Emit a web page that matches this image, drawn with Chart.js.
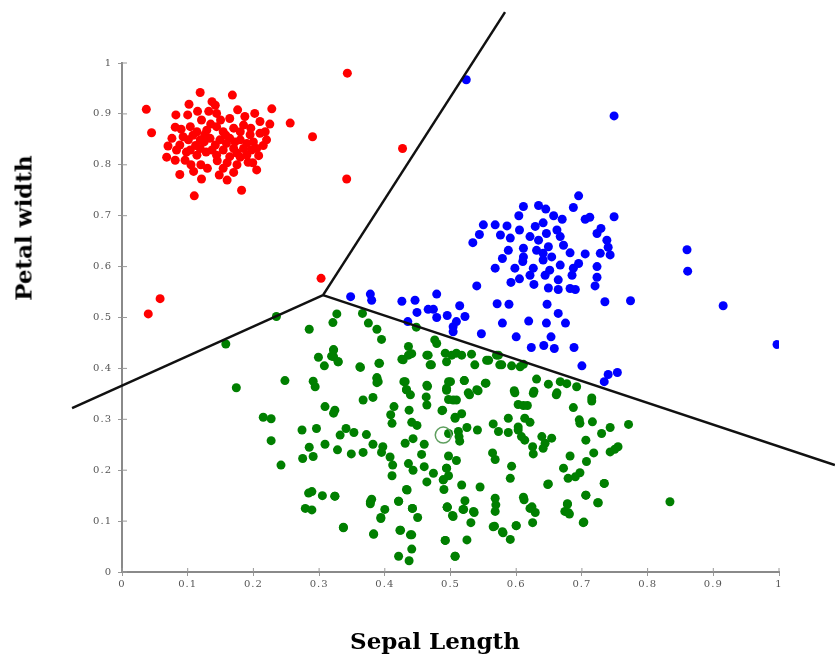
<!DOCTYPE html>
<html lang="en">
<head>
    <meta charset="UTF-8">
    <title>Iris clusters | Sepal Length vs Petal width</title>
    <script src="https://cdn.jsdelivr.net/npm/chart.js@4.4.1/dist/chart.umd.min.js"></script>
    <style>
        html, body { margin: 0; padding: 0; background: #fff; }
        .wrap { position: relative; width: 835px; height: 658px; }
        .axis-title { position: absolute; font-family: "DejaVu Serif", serif; font-weight: bold; font-size: 23px; color: #000; white-space: nowrap; }
        #xTitle { left: 435px; top: 640px; transform: translate(-50%, -50%); }
        #yTitle { left: 23px; top: 228px; transform: translate(-50%, -50%) rotate(-90deg); }
    </style>
</head>
<body>
    <div class="wrap">
        <canvas id="chart" width="835" height="658"></canvas>
        <div class="axis-title" id="xTitle">Sepal Length</div>
        <div class="axis-title" id="yTitle">Petal width</div>
    </div>

    <script>
        // tick values for both axes
        const tickValues = [0, 0.1, 0.2, 0.3, 0.4, 0.5, 0.6, 0.7, 0.8, 0.9, 1];

        // cluster 1 (red)
        const redPoints = [
            [0.343,0.980],[0.037,0.909],[0.045,0.863],[0.119,0.942],[0.168,0.937],[0.102,0.919],[0.137,0.924],
            [0.142,0.917],[0.228,0.910],[0.256,0.882],[0.290,0.855],[0.427,0.832],[0.342,0.772],[0.110,0.739],
            [0.182,0.750],[0.088,0.781],[0.160,0.770],[0.121,0.772],[0.109,0.787],[0.130,0.793],[0.154,0.793],
            [0.205,0.790],[0.199,0.804],[0.160,0.804],[0.068,0.815],[0.081,0.809],[0.096,0.809],[0.070,0.837],
            [0.083,0.829],[0.081,0.874],[0.082,0.898],[0.100,0.898],[0.121,0.888],[0.144,0.901],[0.164,0.891],
            [0.187,0.895],[0.202,0.901],[0.210,0.885],[0.218,0.865],[0.220,0.849],[0.205,0.832],[0.190,0.819],
            [0.180,0.815],[0.104,0.875],[0.114,0.865],[0.129,0.868],[0.144,0.875],[0.154,0.865],[0.170,0.872],
            [0.180,0.865],[0.195,0.859],[0.101,0.849],[0.119,0.849],[0.134,0.852],[0.149,0.849],[0.164,0.852],
            [0.180,0.849],[0.190,0.842],[0.104,0.829],[0.119,0.832],[0.137,0.829],[0.154,0.829],[0.170,0.832],
            [0.185,0.832],[0.197,0.829],[0.114,0.819],[0.144,0.819],[0.164,0.816],[0.126,0.859],[0.159,0.842],
            [0.142,0.839],[0.175,0.823],[0.093,0.855],[0.088,0.839],[0.200,0.845],[0.210,0.862],
            [0.090,0.870],[0.108,0.858],[0.125,0.845],[0.135,0.880],[0.150,0.888],[0.158,0.858],[0.172,0.845],
            [0.185,0.878],[0.196,0.872],[0.112,0.838],[0.128,0.825],[0.145,0.808],[0.175,0.800],[0.192,0.805],
            [0.208,0.818],[0.215,0.838],[0.098,0.825],[0.076,0.852],[0.132,0.905],[0.176,0.908],[0.115,0.905],
            [0.148,0.780],[0.170,0.785],[0.120,0.800],[0.105,0.800],[0.225,0.880],
            [0.303,0.577],[0.058,0.537],[0.040,0.507]
        ];

        // cluster 2 (blue)
        const bluePoints = [
            [0.524,0.967],[0.749,0.896],[0.695,0.739],[0.860,0.633],[0.861,0.591],[0.915,0.523],[0.997,0.447],
            [0.749,0.698],[0.774,0.533],[0.735,0.531],[0.700,0.405],[0.740,0.388],[0.754,0.392],[0.734,0.374],
            [0.688,0.441],[0.658,0.439],[0.642,0.445],[0.623,0.441],[0.600,0.462],[0.653,0.462],[0.646,0.489],
            [0.675,0.489],[0.619,0.493],[0.579,0.489],[0.664,0.508],[0.647,0.526],[0.571,0.527],[0.589,0.526],
            [0.547,0.468],[0.504,0.472],[0.504,0.482],[0.522,0.502],[0.514,0.523],[0.495,0.504],[0.479,0.500],
            [0.474,0.516],[0.466,0.516],[0.479,0.546],[0.449,0.510],[0.435,0.492],[0.446,0.534],[0.426,0.532],
            [0.378,0.546],[0.380,0.534],[0.348,0.541],[0.509,0.492],[0.540,0.562],
            [0.611,0.718],[0.634,0.720],[0.645,0.713],[0.687,0.716],[0.604,0.700],[0.657,0.700],[0.670,0.693],
            [0.705,0.693],[0.712,0.697],[0.550,0.682],[0.568,0.682],[0.586,0.680],[0.544,0.663],[0.534,0.647],
            [0.576,0.662],[0.591,0.656],[0.605,0.672],[0.629,0.679],[0.641,0.686],[0.662,0.672],[0.667,0.659],
            [0.729,0.675],[0.723,0.665],[0.738,0.652],[0.740,0.638],[0.743,0.623],[0.728,0.626],[0.705,0.625],
            [0.723,0.600],[0.695,0.606],[0.682,0.627],[0.672,0.642],[0.649,0.639],[0.631,0.632],[0.611,0.636],
            [0.611,0.619],[0.588,0.632],[0.579,0.616],[0.610,0.610],[0.598,0.597],[0.568,0.597],[0.626,0.597],
            [0.641,0.613],[0.654,0.619],[0.667,0.603],[0.651,0.593],[0.644,0.583],[0.664,0.574],[0.685,0.583],
            [0.687,0.597],[0.723,0.579],[0.720,0.562],[0.682,0.557],[0.664,0.555],[0.649,0.558],[0.627,0.565],
            [0.605,0.576],[0.592,0.569],[0.621,0.583],[0.634,0.652],[0.646,0.665],[0.621,0.659],[0.641,0.626],
            [0.690,0.555]
        ];

        // cluster 3 (green)
        const greenPoints = [
            [0.235,0.502],[0.158,0.448],[0.174,0.362],[0.248,0.376],[0.285,0.477],[0.327,0.507],[0.321,0.490],
            [0.366,0.508],[0.375,0.489],[0.388,0.477],[0.395,0.457],[0.322,0.437],[0.299,0.422],[0.319,0.424],
            [0.329,0.413],[0.308,0.405],[0.363,0.402],[0.391,0.410],[0.291,0.375],[0.294,0.364],[0.388,0.382],
            [0.390,0.374],[0.309,0.325],[0.324,0.318],[0.322,0.312],[0.367,0.338],[0.382,0.343],[0.215,0.304],
            [0.227,0.301],[0.274,0.279],[0.296,0.282],[0.227,0.258],[0.242,0.210],[0.285,0.245],[0.275,0.223],
            [0.291,0.227],[0.309,0.251],[0.328,0.240],[0.332,0.269],[0.341,0.282],[0.353,0.274],[0.372,0.270],
            [0.349,0.232],[0.367,0.235],[0.382,0.251],[0.397,0.246],[0.395,0.235],[0.408,0.226],[0.412,0.210],
            [0.411,0.189],[0.431,0.253],[0.443,0.262],[0.460,0.251],[0.456,0.231],[0.436,0.213],[0.443,0.200],
            [0.460,0.207],[0.474,0.194],[0.494,0.204],[0.464,0.177],[0.489,0.181],[0.490,0.162],[0.434,0.161],
            [0.421,0.139],[0.442,0.125],[0.450,0.107],[0.400,0.123],[0.394,0.105],[0.380,0.143],[0.378,0.134],
            [0.289,0.158],[0.284,0.155],[0.305,0.150],[0.324,0.149],[0.279,0.125],[0.289,0.122],[0.337,0.087],
            [0.383,0.074],[0.423,0.082],[0.439,0.073],[0.441,0.045],[0.421,0.031],[0.437,0.022],[0.492,0.062],
            [0.507,0.031],[0.495,0.127],[0.504,0.109],[0.429,0.374],[0.433,0.358],[0.439,0.348],[0.465,0.365],
            [0.463,0.344],[0.464,0.328],[0.414,0.325],[0.409,0.309],[0.411,0.292],[0.437,0.318],[0.441,0.294],
            [0.449,0.288],[0.487,0.317],[0.497,0.374],[0.494,0.357],[0.497,0.339],[0.509,0.338],[0.507,0.302],
            [0.436,0.443],[0.436,0.426],[0.428,0.417],[0.466,0.426],[0.471,0.407],[0.476,0.456],[0.479,0.449],
            [0.492,0.430],[0.494,0.413],[0.509,0.430],[0.448,0.481],[0.512,0.276],[0.497,0.272],
            [0.517,0.426],[0.532,0.428],[0.537,0.407],[0.558,0.416],[0.573,0.426],[0.575,0.407],[0.593,0.405],
            [0.606,0.403],[0.611,0.408],[0.631,0.379],[0.649,0.369],[0.667,0.374],[0.677,0.370],[0.692,0.364],
            [0.661,0.348],[0.626,0.351],[0.598,0.352],[0.554,0.371],[0.542,0.356],[0.529,0.348],[0.500,0.374],
            [0.521,0.376],[0.504,0.338],[0.488,0.318],[0.507,0.304],[0.517,0.311],[0.525,0.284],[0.541,0.279],
            [0.513,0.266],[0.514,0.257],[0.497,0.228],[0.509,0.219],[0.494,0.204],[0.497,0.189],[0.489,0.181],
            [0.517,0.171],[0.545,0.167],[0.603,0.329],[0.611,0.327],[0.617,0.327],[0.588,0.302],[0.565,0.291],
            [0.573,0.276],[0.588,0.274],[0.603,0.279],[0.613,0.302],[0.621,0.294],[0.608,0.266],[0.603,0.285],
            [0.613,0.259],[0.625,0.246],[0.626,0.232],[0.639,0.266],[0.644,0.253],[0.654,0.263],[0.641,0.243],
            [0.564,0.234],[0.568,0.221],[0.593,0.208],[0.591,0.184],[0.687,0.323],[0.696,0.299],[0.697,0.292],
            [0.716,0.295],[0.715,0.336],[0.706,0.259],[0.718,0.234],[0.730,0.272],[0.743,0.284],[0.771,0.290],
            [0.743,0.236],[0.755,0.246],[0.750,0.241],[0.682,0.228],[0.707,0.217],[0.672,0.204],[0.679,0.184],
            [0.697,0.195],[0.690,0.187],[0.649,0.173],[0.734,0.174],[0.706,0.151],[0.725,0.136],[0.678,0.134],
            [0.679,0.117],[0.703,0.098],[0.834,0.138],[0.612,0.142],[0.621,0.125],[0.629,0.117],[0.625,0.097],
            [0.600,0.091],[0.579,0.079],[0.591,0.064],[0.565,0.089],[0.568,0.119],[0.569,0.132],[0.568,0.145],
            [0.535,0.119],[0.531,0.097],[0.520,0.123],[0.522,0.140],[0.503,0.111],[0.495,0.128],[0.525,0.063],
            [0.492,0.062],[0.507,0.031],
            [0.570,0.426],[0.555,0.416],[0.578,0.407],[0.469,0.407],[0.392,0.410],[0.362,0.403],[0.388,0.380],
            [0.388,0.372],[0.431,0.374],[0.464,0.367],[0.521,0.376],[0.553,0.371],[0.433,0.358],[0.494,0.361],
            [0.527,0.352],[0.540,0.358],[0.597,0.356],[0.627,0.355],[0.662,0.352],[0.715,0.342],[0.322,0.423],
            [0.322,0.436],[0.329,0.413],[0.426,0.418],[0.441,0.429],[0.464,0.426],[0.502,0.426],
            [0.324,0.149],[0.378,0.138],[0.337,0.088],[0.383,0.075],[0.394,0.107],[0.421,0.139],[0.433,0.162],
            [0.442,0.125],[0.424,0.082],[0.441,0.073],[0.495,0.127],[0.519,0.123],[0.536,0.117],[0.567,0.090],
            [0.580,0.077],[0.600,0.091],[0.611,0.147],[0.624,0.128],[0.648,0.172],[0.678,0.133],[0.674,0.119],
            [0.681,0.114],[0.702,0.097],[0.706,0.151],[0.724,0.136],[0.734,0.174]
        ];

        // highlighted (hollow) sample
        const ringPoint = [[0.489, 0.269]];

        // decision boundaries, all meeting at the centre point
        const boundaryUpper = [[0.306, 0.544], [0.583, 1.100]];
        const boundaryLeft = [[-0.076, 0.322], [0.306, 0.544]];
        const boundaryRight = [[0.306, 0.544], [1.085, 0.210]];

        const toXY = pts => pts.map(p => ({ x: p[0], y: p[1] }));

        function fmtTick(v) {
            if (v === 0) return '0';
            if (v === 1) return '1';
            return v.toFixed(1);
        }

        // short tick marks on the inner side of the axes, so they cross the axis line
        const innerTicks = {
            id: 'innerTicks',
            beforeDraw(chart) {
                chart.ctx.letterSpacing = '1px';
            },
            afterDraw(chart) {
                const { ctx, chartArea, scales } = chart;
                ctx.save();
                ctx.strokeStyle = '#999';
                ctx.lineWidth = 1;
                tickValues.forEach(v => {
                    const px = scales.x.getPixelForValue(v);
                    ctx.beginPath();
                    ctx.moveTo(px, chartArea.bottom);
                    ctx.lineTo(px, chartArea.bottom - 4);
                    ctx.stroke();
                    const py = scales.y.getPixelForValue(v);
                    ctx.beginPath();
                    ctx.moveTo(chartArea.left, py);
                    ctx.lineTo(chartArea.left + 5, py);
                    ctx.stroke();
                });
                ctx.restore();
            }
        };

        const tickFont = { family: '"DejaVu Serif", serif', size: 10 };
        const lineStyle = { borderColor: '#111', borderWidth: 2.5, pointRadius: 0, showLine: true, clip: false, order: 0 };

        new Chart(document.getElementById('chart'), {
            type: 'scatter',
            data: {
                datasets: [
                    { data: toXY(boundaryUpper), ...lineStyle },
                    { data: toXY(boundaryLeft), ...lineStyle },
                    { data: toXY(boundaryRight), ...lineStyle },
                    { data: toXY(ringPoint), pointRadius: 8, borderWidth: 1.5, borderColor: '#5f9f5f', backgroundColor: 'rgba(0,0,0,0)', order: 1 },
                    { data: toXY(redPoints), pointRadius: 4.5, borderWidth: 0, backgroundColor: '#ff0000', order: 2 },
                    { data: toXY(bluePoints), pointRadius: 4.5, borderWidth: 0, backgroundColor: '#0000ff', order: 2 },
                    { data: toXY(greenPoints), pointRadius: 4.5, borderWidth: 0, backgroundColor: '#007f00', order: 2 }
                ]
            },
            options: {
                responsive: false,
                animation: false,
                layout: { padding: { left: 82, right: 56, top: 63, bottom: 56 } },
                plugins: { legend: { display: false }, tooltip: { enabled: false } },
                scales: {
                    x: {
                        type: 'linear', min: 0, max: 1,
                        afterBuildTicks: s => { s.ticks = tickValues.map(v => ({ value: v })); },
                        afterFit: s => { s.height = 30; },
                        ticks: { callback: fmtTick, font: tickFont, color: '#555', maxRotation: 0, padding: 2 },
                        grid: { drawOnChartArea: false, tickLength: 4, color: '#999' },
                        border: { color: '#8a8a8a', width: 2 }
                    },
                    y: {
                        type: 'linear', min: 0, max: 1,
                        afterBuildTicks: s => { s.ticks = tickValues.map(v => ({ value: v })); },
                        afterFit: s => { s.width = 40; },
                        ticks: { callback: fmtTick, font: tickFont, color: '#555', padding: 6 },
                        grid: { drawOnChartArea: false, tickLength: 4, color: '#999' },
                        border: { color: '#8a8a8a', width: 2 }
                    }
                }
            },
            plugins: [innerTicks]
        });
    </script>
</body>
</html>
